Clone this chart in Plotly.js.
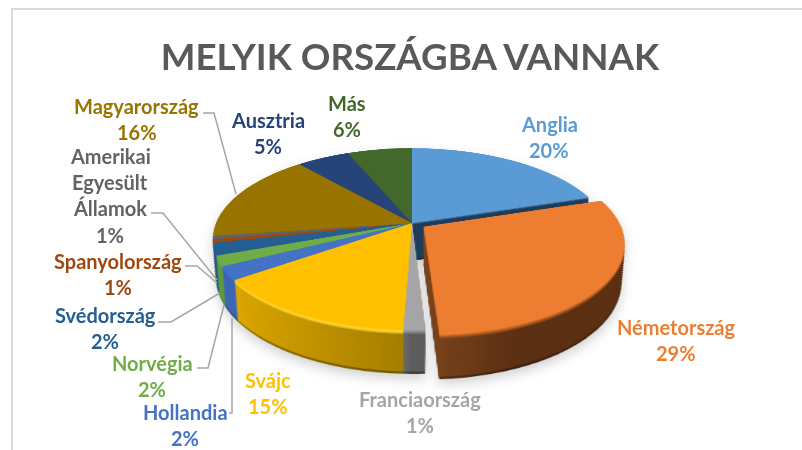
<!DOCTYPE html>
<html><head><meta charset="utf-8">
<script src="https://cdn.plot.ly/plotly-3.0.1.min.js"></script>
<style>
html,body{margin:0;padding:0;background:#fff;width:802px;height:450px;overflow:hidden}
#stage{position:absolute;left:0;top:0;width:802px;height:450px;overflow:hidden}
#shadow{position:absolute;left:0;top:0;width:802px;height:450px;filter:drop-shadow(0 5px 6px rgba(0,0,0,.18))}
#pie{position:absolute;left:112px;top:-77px;width:600px;height:600px;transform-origin:300px 300px;transform:perspective(995px) rotateX(63.3deg)}
#text{position:absolute;left:0;top:0;width:802px;height:450px}
</style></head><body>
<div id="stage"><div id="shadow"><div id="pie"></div></div><div id="text"></div></div>
<script>
const countries = ["Anglia","Németország","Franciaország","Svájc","Hollandia","Norvégia","Svédország","Spanyolország","Amerikai Egyesült Államok","Magyarország","Ausztria","Más"];
const shares = [20,29,1.49,14.5,2.4,1.8,2.2,0.6,0.6,15.9,5.1,6.2];
const pulled = [0,0.072,0,0,0,0,0,0,0,0,0,0];
const topColors = ["#5B9BD5","#ED7D31","#A5A5A5","#FFC000","#4472C4","#70AD47","#255E91","#9E480E","#636363","#997300","#264478","#43682B"];
const wallLeft = ["#1f3d5a","#7a431c","#6a6a6a","#dba600","#3a66b5","#5f9a3c","#1f5a8c","#8a3e0b","#5a5a5a","#8a6800","#1f3a68","#3a5a25"];
const wallRight = ["#1f3d5a","#5a2f12","#5c5c5c","#a37c00","#3a66b5","#5f9a3c","#1f5a8c","#8a3e0b","#5a5a5a","#8a6800","#1f3a68","#3a5a25"];
const wallFade = [0.4,0.4,0.4,1,0.4,0.4,0.4,0.4,0.4,0.4,0.4,0.4];
const rimColors = ["#1f3d5a","#a9571f","#8c8c8c","#ffd93a","#3f6cc0","#6aa544","#235a8c","#9a460e","#606060","#997300","#264478","#43682B"];
const titleText = "MELYIK ORSZÁGBA VANNAK";
const labelLines = [["Anglia"],["Németország"],["Franciaország"],["Svájc"],["Hollandia"],["Norvégia"],["Svédország"],["Spanyolország"],["Amerikai","Egyesült","Államok"],["Magyarország"],["Ausztria"],["Más"]];
const labelX = [549,676,420,268,185,152,105,118,110,136.5,268,347];
const labelY = [124,327,399,380,412,363,315,261,156,106,120,103];
const lineStep = 26.2;
const leaders = [
 [[203,113],[214,113],[236,194]],
 [[151,213],[163,213],[217,280]],
 [[185,266],[197,266],[217,283]],
 [[158,322],[171,322],[220,293]],
 [[197,368],[208,368],[224,305]],
 [[229,413],[232,413],[232,318]]
];

function hex(c){return [1,3,5].map(i=>parseInt(c.substr(i,2),16));}
function mix(a,b,t){const A=hex(a),B=hex(b);return 'rgb('+A.map((v,i)=>Math.round(v+(B[i]-v)*t)).join(',')+')';}
function toHex(c){const m=c.match(/\d+/g).map(Number);return '#'+m.map(v=>v.toString(16).padStart(2,'0')).join('');}

const N = 40, W = 600, R = 196, maxPull = Math.max(...pulled);
const BEVEL = 0.12;
const traces = [];
for (let k = N; k >= 0; k--) {
  const t = k / N;
  const half = R * (1 + maxPull) * (1 - 0.085 * t);
  const cy = 300 + 78.6 * t;
  let colors;
  if (k === 0) colors = topColors;
  else colors = topColors.map((c,i)=>{
    const mid = toHex(mix(wallLeft[i],wallRight[i],0.5));
    if (t < BEVEL/2) return mix(c,rimColors[i],t/(BEVEL/2));
    if (t < BEVEL) return mix(rimColors[i],mid,(t-BEVEL/2)/(BEVEL/2));
    return mid;
  });
  traces.push({
    type:'pie', values:shares, labels:countries, sort:false, direction:'clockwise', rotation:0,
    pull:pulled, textinfo:'none', hoverinfo:'skip', showlegend:false,
    marker:{colors:colors,line:{width:0}},
    domain:{x:[(300-half)/W,(300+half)/W], y:[Math.max(0,1-(cy+half)/W),1-(cy-half)/W]}
  });
}

const pieEl = document.getElementById('pie');
Plotly.newPlot(pieEl, traces, {
  width:W,height:W,margin:{l:0,r:0,t:0,b:0,pad:0},showlegend:false,
  paper_bgcolor:'rgba(0,0,0,0)',plot_bgcolor:'rgba(0,0,0,0)'
},{staticPlot:true,displayModeBar:false}).then(()=>{
  const svg = pieEl.querySelector('svg.main-svg');
  const NS = 'http://www.w3.org/2000/svg';
  const defs = svg.querySelector('defs') || svg.insertBefore(document.createElementNS(NS,'defs'),svg.firstChild);
  const mkGrad=(id,a,b,f)=>{
    const g=document.createElementNS(NS,'linearGradient');
    g.setAttribute('id',id);g.setAttribute('x1','0');g.setAttribute('x2','1');g.setAttribute('y1','0');g.setAttribute('y2','0');
    [[0,a],[f,b],[1,b]].forEach(([o,c])=>{const s=document.createElementNS(NS,'stop');s.setAttribute('offset',o);s.setAttribute('stop-color',c);g.appendChild(s);});
    defs.appendChild(g);
  };
  topColors.forEach((c,i)=>{
    mkGrad('wg'+i,wallLeft[i],wallRight[i],wallFade[i]);
    mkGrad('wd'+i,toHex(mix(wallLeft[i],'#000000',0.3)),toHex(mix(wallRight[i],'#000000',0.3)),wallFade[i]);
  });
  const layers = pieEl.querySelectorAll('.pielayer .trace');
  layers.forEach((g,idx)=>{
    const k = N - idx, t = k/N;
    if (k===0 || t<BEVEL) return;
    const dark = k >= N-1;
    g.querySelectorAll('.slice').forEach((sl,si)=>{
      const p = sl.querySelector('path.surface');
      if (p) p.style.fill = 'url(#'+(dark?'wd':'wg')+si+')';
    });
  });
});

const annotations = [];
labelLines.forEach((lines,i)=>{
  const all = lines.concat([Math.round(shares[i])+'%']);
  all.forEach((txt,j)=>{
    annotations.push({xref:'x',yref:'y',x:labelX[i],y:labelY[i]+j*lineStep,text:txt,showarrow:false,
      xanchor:'center',yanchor:'middle',font:{family:'Lato, "Open Sans", sans-serif',size:20,color:topColors[i],weight:700}});
  });
});
const grey = '#A6A6A6';
const shapes = leaders.map(pts=>({type:'path',xref:'x',yref:'y',
  path:'M '+pts.map(p=>p.join(' ')).join(' L '),line:{color:grey,width:1.5}}));
shapes.push({type:'path',xref:'x',yref:'y',path:'M 12 450 L 12 9 L 802 9',line:{color:'#DADADA',width:2}});

Plotly.newPlot('text',[{type:'scatter',x:[0,802],y:[0,450],mode:'none',hoverinfo:'skip',showlegend:false}],{
  width:802,height:450,margin:{l:0,r:0,t:0,b:0,pad:0},showlegend:false,
  paper_bgcolor:'rgba(0,0,0,0)',plot_bgcolor:'rgba(0,0,0,0)',
  title:{text:titleText,x:410/802,xref:'paper',xanchor:'center',y:1-57/450,yref:'paper',yanchor:'middle',
    font:{family:'Lato, "Open Sans", sans-serif',size:36.7,color:'#595959',weight:700}},
  xaxis:{range:[0,802],visible:false,fixedrange:true},
  yaxis:{range:[450,0],visible:false,fixedrange:true},
  annotations:annotations,shapes:shapes
},{staticPlot:true,displayModeBar:false});
</script>
</body></html>
